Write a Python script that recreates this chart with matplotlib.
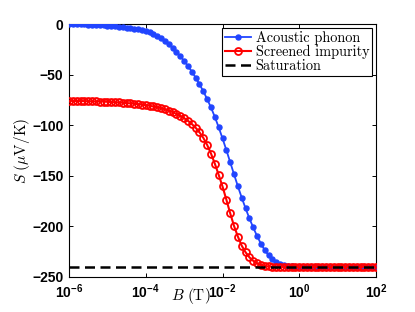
import numpy as np
import matplotlib
matplotlib.use("Agg")
import matplotlib.pyplot as plt
from matplotlib.ticker import FixedLocator, FixedFormatter, NullLocator

# ---------------- data ----------------
field_T = np.logspace(-6, 2, 81)

acoustic_phonon = [
    0.0, -0.1, -0.2, -0.3, -0.45, -0.6, -0.75, -0.9, -1.1, -1.3,
    -1.6, -1.9, -2.3, -2.7, -3.2, -3.7, -4.2, -4.8, -5.4, -6.1,
    -6.9, -8.2, -9.8, -11.8, -14.2, -17.0, -20.2, -23.7, -27.6, -31.8,
    -36.5, -41.5, -47.0, -53.0, -59.5, -66.5, -74.2, -82.5, -91.8, -102.0,
    -113.0, -124.5, -136.5, -148.5, -160.3, -171.5, -182.0, -192.0, -201.0, -209.5,
    -217.0, -223.5, -228.5, -232.3, -235.0, -236.9, -238.2, -239.0, -239.5, -239.8,
    -239.9, -240.0, -240.0, -240.0, -240.0, -240.0, -240.0, -240.0, -240.0, -240.0,
    -240.0, -240.0, -240.0, -240.0, -240.0, -240.0, -240.0, -240.0, -240.0, -240.0,
    -240.0,
]

screened_impurity = [
    -76.0, -76.0, -76.1, -76.1, -76.2, -76.3, -76.4, -76.5, -76.6, -76.7,
    -76.9, -77.1, -77.3, -77.5, -77.8, -78.1, -78.4, -78.8, -79.2, -79.7,
    -80.2, -80.8, -81.5, -82.3, -83.2, -84.3, -85.6, -87.1, -88.8, -90.8,
    -93.0, -95.6, -98.8, -102.5, -107.0, -112.5, -119.5, -128.0, -138.0, -149.0,
    -160.5, -173.5, -187.0, -199.5, -210.0, -219.0, -225.5, -230.5, -234.0, -236.5,
    -238.0, -239.0, -239.6, -239.9, -240.0, -240.0, -240.0, -240.0, -240.0, -240.0,
    -240.0, -240.0, -240.0, -240.0, -240.0, -240.0, -240.0, -240.0, -240.0, -240.0,
    -240.0, -240.0, -240.0, -240.0, -240.0, -240.0, -240.0, -240.0, -240.0, -240.0,
    -240.0,
]

saturation = -240.0

series_labels = ["Acoustic phonon", "Screened impurity", "Saturation"]

x_ticks = [1e-6, 1e-4, 1e-2, 1e0, 1e2]
x_tick_labels = [r"$\mathbf{10^{-6}}$", r"$\mathbf{10^{-4}}$", r"$\mathbf{10^{-2}}$",
                 r"$\mathbf{10^{0}}$", r"$\mathbf{10^{2}}$"]
y_ticks = [-250, -200, -150, -100, -50, 0]

# ---------------- styling ----------------
plt.rcParams["mathtext.fontset"] = "custom"
plt.rcParams["mathtext.bf"] = "Liberation Sans:bold"
plt.rcParams["mathtext.rm"] = "Liberation Sans:bold"
plt.rcParams["mathtext.it"] = "Liberation Sans:bold"

fig = plt.figure(figsize=(4.15, 3.12), dpi=100)
ax = fig.add_axes([69 / 415, 1 - 277 / 312, 307 / 415, 253 / 312])

blue = (0.13, 0.27, 1.0)
red = (1.0, 0.0, 0.0)

ax.plot(field_T, acoustic_phonon, "-o", color=blue, lw=1.3, ms=3.6,
        mfc=blue, mec=blue, label=series_labels[0], zorder=3)
ax.plot(field_T, screened_impurity, "-o", color=red, lw=1.5, ms=5.0,
        mfc="none", mec=red, mew=1.3, label=series_labels[1], zorder=3)
ax.axhline(saturation, color="black", lw=1.8, dashes=(4, 2.2),
           label=series_labels[2], zorder=4)

ax.set_xscale("log")
ax.set_xlim(1e-6, 1e2)
ax.set_ylim(-250, 0)
ax.xaxis.set_major_locator(FixedLocator(x_ticks))
ax.xaxis.set_major_formatter(FixedFormatter(x_tick_labels))
ax.xaxis.set_minor_locator(NullLocator())
ax.set_yticks(y_ticks)

ax.tick_params(direction="in", length=3, width=0.7, top=True, right=True,
               labelsize=10, pad=4)
for lab in ax.get_yticklabels():
    lab.set_fontfamily("Liberation Sans")
    lab.set_fontweight("bold")
for lab in ax.get_xticklabels():
    lab.set_fontfamily("Liberation Sans")
    lab.set_fontweight("bold")

for s in ax.spines.values():
    s.set_linewidth(0.8)

ax.set_xlabel(r"$B\ (\mathrm{T})$", fontsize=11, math_fontfamily="cm")
ax.xaxis.set_label_coords(0.397, -0.075)
ax.xaxis.label.set_va("center")
ax.set_ylabel(r"$S\ (\mu\mathrm{V/K})$", fontsize=11, math_fontfamily="cm")
ax.yaxis.set_label_coords(-0.153, 0.5)
ax.yaxis.label.set_va("center")

leg = ax.legend(loc="upper right", bbox_to_anchor=(0.987, 0.984),
                borderaxespad=0, prop={"family": "cmr10", "size": 10.3},
                handlelength=1.85, handletextpad=0.3, borderpad=0.2,
                labelspacing=0.0, fancybox=False, framealpha=1,
                edgecolor="black")
leg.get_frame().set_linewidth(0.8)

fig.savefig("out.png", dpi=100)
